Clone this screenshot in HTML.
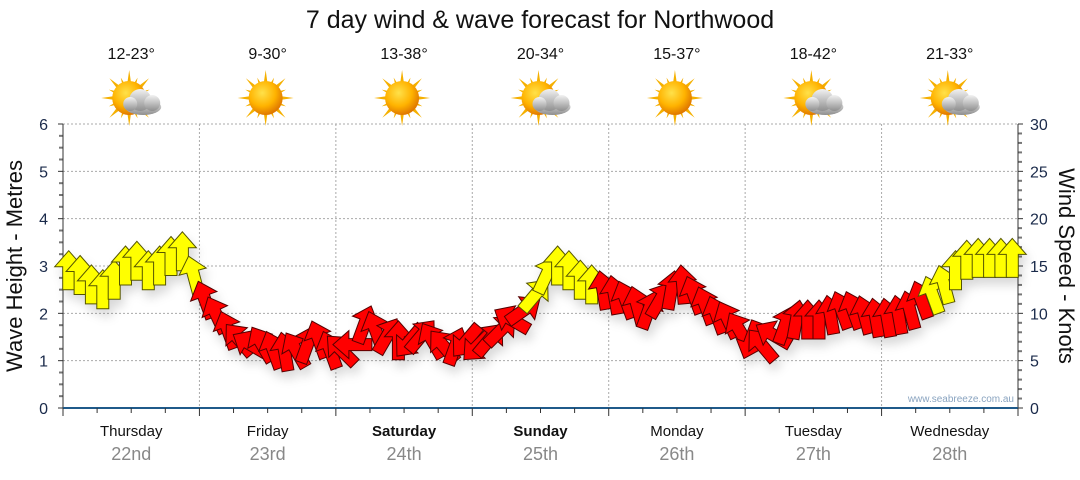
<!DOCTYPE html>
<html><head><meta charset="utf-8"><style>
body{margin:0;background:#fff;width:1080px;height:475px;overflow:hidden;font-family:"Liberation Sans",sans-serif}
svg text{font-family:"Liberation Sans",sans-serif}
</style></head><body>
<svg id="c" width="1080" height="475" viewBox="0 0 1080 475" xmlns="http://www.w3.org/2000/svg">
<defs>
<radialGradient id="sunG" cx="40%" cy="35%" r="65%"><stop offset="0" stop-color="#ffe14a"/><stop offset="0.6" stop-color="#ffb300"/><stop offset="1" stop-color="#e07800"/></radialGradient>
<linearGradient id="cloudG" x1="0" y1="0" x2="0" y2="1"><stop offset="0" stop-color="#f2f2f2"/><stop offset="1" stop-color="#8f8f8f"/></linearGradient>
<filter id="sh" x="-50%" y="-50%" width="200%" height="200%"><feDropShadow dx="3" dy="7" stdDeviation="5" flood-color="#000" flood-opacity="0.15"/></filter>
</defs>
<text x="540" y="28" text-anchor="middle" font-size="25" fill="#111">7 day wind &amp; wave forecast for Northwood</text>
<g id="grid"></g><g id="axes"></g><g id="icons"></g><g id="arrows" filter="url(#sh)"></g>
<text transform="translate(22,266) rotate(-90)" text-anchor="middle" font-size="22" fill="#111">Wave Height - Metres</text>
<text transform="translate(1059,266) rotate(90)" text-anchor="middle" font-size="22" fill="#111">Wind Speed - Knots</text>
<text x="1014" y="402" text-anchor="end" font-size="10" fill="#8aa4c0">www.seabreeze.com.au</text>
</svg>
<script>
const days=["Thursday","Friday","Saturday","Sunday","Monday","Tuesday","Wednesday"];
const dates=["22nd","23rd","24th","25th","26th","27th","28th"];
const boldDays=[false,false,true,true,false,false,false];
const temps=["12-23°","9-30°","13-38°","20-34°","15-37°","18-42°","21-33°"];
const cloudy=[true,false,false,true,false,true,true];
const leftTicks=[0,1,2,3,4,5,6];
const rightTicks=[0,5,10,15,20,25,30];
const windSpeed=[14.5,14,13,12.5,13.5,15,15.5,14.5,15,16,16.5,14,
11.4,9.8,8.2,7.2,6.7,6.7,6.1,5.9,6.1,6.7,7.2,6.1,
6.1,6.7,8.8,8.2,7.6,7.1,7.1,7.6,7.1,6.5,6.5,7.1,
6.6,7.2,8.2,9.3,10.3,11.9,14,15,14.5,13.5,13,12.4,
11.9,11.4,10.8,10.3,11.4,12.4,13,11.9,10.8,9.8,9.3,8.2,
7.2,6.6,7.7,8.7,9.3,9.3,9.3,9.8,10.3,10.3,9.8,9.5,
9.5,9.8,10.3,11.4,11.9,13,14.5,15.6,15.8,15.8,15.8,15.8];
const windDir=[0,0,0,0,0,0,0,0,0,0,0,-15,
-20,-25,-20,-40,-60,-30,-20,-10,-30,20,-20,-20,
-45,-90,20,-20,30,0,-140,40,-30,-40,20,-140,
-135,40,45,-60,55,40,25,0,0,0,0,-10,
-10,-20,-15,20,30,10,-5,-20,-20,-20,-25,-30,
-160,-40,-60,20,10,0,0,-10,-20,-20,-15,-10,
-10,-10,-15,-20,-20,-15,0,0,0,0,0,0];
const windColor=["y","y","y","y","y","y","y","y","y","y","y","y",
"r","r","r","r","r","r","r","r","r","r","r","r",
"r","r","r","r","r","r","r","r","r","r","r","r",
"r","r","r","r","r","y","y","y","y","y","y","r",
"r","r","r","r","r","r","r","r","r","r","r","r",
"r","r","r","r","r","r","r","r","r","r","r","r",
"r","r","r","r","y","y","y","y","y","y","y","y"];
const NS="http://www.w3.org/2000/svg";
const X0=63,X1=1018,Y0=408,Y1=124;
const xDay=d=>X0+(X1-X0)/7*d;
const yM=v=>Y0-(Y0-Y1)*v/6;
const yK=v=>Y0-(Y0-Y1)*v/30;
function mk(tag,attrs,parent,txt){const e=document.createElementNS(NS,tag);for(const k in attrs)e.setAttribute(k,attrs[k]);if(txt!==undefined)e.textContent=txt;parent.appendChild(e);return e;}
const grid=document.getElementById('grid'),axes=document.getElementById('axes'),icons=document.getElementById('icons'),arrows=document.getElementById('arrows');
leftTicks.forEach(v=>{
 if(v>0){const l=mk('line',{x1:X0,x2:X1,y1:yM(v),y2:yM(v),stroke:'#aaa','stroke-dasharray':'2,2'},grid);
 
 }
 const t=mk('text',{x:48,y:yM(v)+6,'text-anchor':'end','font-size':16,fill:'#1a2a4a'},axes,String(v));
 
 
 mk('line',{x1:X0-5,x2:X0,y1:yM(v),y2:yM(v),stroke:'#333'},axes);
});
for(let i=1;i<24;i++){if(i%4)mk('line',{x1:X0-4,x2:X0,y1:yM(i/4),y2:yM(i/4),stroke:'#777','stroke-width':2},axes);}
rightTicks.forEach(v=>{
 const t=mk('text',{x:1030,y:yK(v)+6,'font-size':16,fill:'#1a2a4a'},axes,String(v));
 
 
 mk('line',{x1:X1,x2:X1+5,y1:yK(v),y2:yK(v),stroke:'#333'},axes);
});
for(let i=1;i<30;i++){if(i%5)mk('line',{x1:X1,x2:X1+4,y1:yK(i),y2:yK(i),stroke:'#777','stroke-width':2},axes);}
mk('line',{x1:X0,x2:X0,y1:Y1,y2:Y0,stroke:'#333'},axes);
mk('line',{x1:X1,x2:X1,y1:Y1,y2:Y0,stroke:'#333'},axes);
mk('line',{x1:X0,x2:X1,y1:Y0,y2:Y0,stroke:'#1f5a8a','stroke-width':2},axes);
for(let i=0;i<=28;i++){const x=X0+(X1-X0)/28*i;mk('line',{x1:x,x2:x,y1:Y0,y2:Y0+(i%4?5:8),stroke:'#333'},axes);}
days.forEach((d,i)=>{
 const cx=xDay(i+0.5);
 if(i>0){const l=mk('line',{x1:xDay(i),x2:xDay(i),y1:Y1,y2:Y0,stroke:'#aaa','stroke-dasharray':'2,2'},grid);
 
 }
 const t=mk('text',{x:cx,y:436,'text-anchor':'middle','font-size':15,fill:'#111','font-weight':boldDays[i]?'bold':'normal'},axes,d);
 
 
 const t2=mk('text',{x:cx,y:460,'text-anchor':'middle','font-size':18,fill:'#888'},axes,dates[i]);
 
 
 const t3=mk('text',{x:cx,y:59,'text-anchor':'middle','font-size':16,fill:'#111'},icons,temps[i]);
 
 
 const g=mk('g',{transform:`translate(${cx-2},98)`},icons);
 
 
 for(let r=0;r<16;r++){const a=r*22.5,L=r%2?22:28;mk('polygon',{points:`-4,0 4,0 0,-${L}`,fill:'#f5b000',transform:`rotate(${a})`},g);}
 mk('circle',{r:17,fill:'url(#sunG)'},g);
 if(cloudy[i]){const c=mk('g',{transform:'translate(14,3)'},g);
  mk('ellipse',{cx:0,cy:6,rx:18,ry:8,fill:'url(#cloudG)'},c);
  mk('circle',{cx:-3,cy:-1,r:11,fill:'url(#cloudG)'},c);
  mk('circle',{cx:9,cy:2,r:8,fill:'url(#cloudG)'},c);
  mk('circle',{cx:-13,cy:3,r:7,fill:'url(#cloudG)'},c);}
});
const step=(X1-X0)/windSpeed.length;
windSpeed.forEach((v,i)=>{
 const x=X0+step*(i+0.5),y=yK(v);
 const a=mk('polygon',{points:'0,-20 14,-4 6,-4 6,19 -6,19 -6,-4 -14,-4',fill:windColor[i]==='y'?'#ffff00':'#ff0000',stroke:windColor[i]==='y'?'#555500':'#550000','stroke-width':1,transform:`translate(${x.toFixed(1)},${y.toFixed(1)}) rotate(${windDir[i]})`},arrows);
 
 
});
</script>
</body></html>
